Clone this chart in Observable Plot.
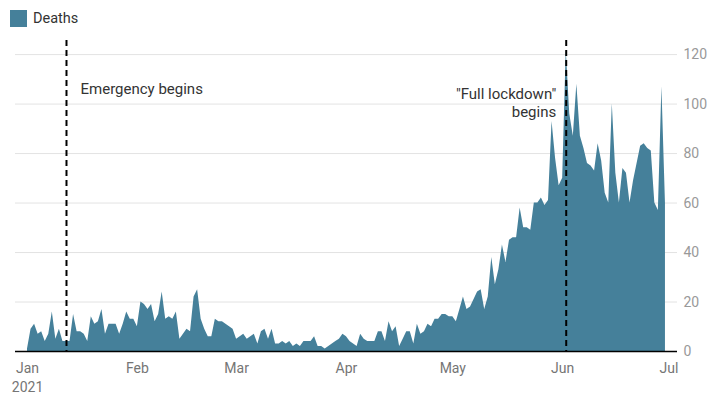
<!DOCTYPE html>
<html>
<head>
<meta charset="utf-8">
<script src="https://cdn.jsdelivr.net/npm/d3@7"></script>
<script src="https://cdn.jsdelivr.net/npm/@observablehq/plot@0.6"></script>
<style>
  html, body { margin: 0; padding: 0; background: #fff; }
  body { width: 725px; height: 399px; position: relative; overflow: hidden; font-family: Roboto, sans-serif; }
  #legend { position: absolute; left: 10px; top: 10px; display: flex; align-items: center; font-size: 14.5px; color: #333; z-index: 2; }
  #legend .sw { width: 17px; height: 17px; margin-right: 6px; }
  #chart { position: absolute; left: 0; top: 0; }
</style>
</head>
<body>
<div id="legend"></div>
<div id="chart"></div>
<script>
// Daily deaths, one value per day starting 1 Jan 2021
const startDate = "2021-01-01";
const deaths = [
  // Jan
  1, 9, 11, 7, 8, 4, 7, 16, 5, 9, 4, 4, 4, 15, 8, 8, 7, 4, 14, 11, 12, 17, 7, 11, 11, 11, 7, 11, 16, 13, 13,
  // Feb
  10, 20, 19, 17, 19, 12, 15, 24, 13, 14, 13, 16, 5, 7, 9, 8, 22, 25, 13, 9, 6, 6, 13, 12, 12, 11, 10, 9,
  // Mar
  5, 6, 7, 5, 6, 7, 3, 8, 9, 5, 9, 3, 3, 4, 3, 4, 2, 3, 2, 4, 4, 4, 6, 2, 2, 1, 2, 3, 4, 5, 7,
  // Apr
  6, 4, 3, 2, 7, 5, 4, 4, 4, 8, 8, 4, 12, 8, 10, 2, 5, 8, 8, 3, 11, 7, 8, 11, 10, 13, 13, 15, 15, 14,
  // May
  14, 12, 17, 22, 17, 18, 21, 24, 25, 17, 22, 38, 27, 33, 43, 36, 45, 46, 46, 58, 50, 50, 49, 60, 60, 62, 59, 61, 93, 78, 67,
  // Jun
  70, 122, 96, 87, 108, 87, 82, 76, 75, 73, 84, 77, 64, 60, 100, 72, 60, 74, 72, 60, 69, 76, 83, 84, 82, 81, 60, 57, 107, 60
];
const seriesName = "Deaths";
const tickDates = ["2021-01-01", "2021-02-01", "2021-03-01", "2021-04-01", "2021-05-01", "2021-06-01", "2021-07-01"];
const tickLabels = ["Jan", "Feb", "Mar", "Apr", "May", "Jun", "Jul"];
const yearLabel = "2021";
const yTicks = [0, 20, 40, 60, 80, 100, 120];
const eventDates = ["2021-01-12", "2021-06-02"];
const eventLabels = ["Emergency begins", "\"Full lockdown\"\nbegins"];

const fillColor = "#45809a";

const start = new Date(startDate + "T00:00:00Z");
const table = deaths.map((v, i) => ({ date: d3.utcDay.offset(start, i), deaths: v }));
const ticks = tickDates.map(d => new Date(d + "T00:00:00Z"));
const events = eventDates.map((d, i) => ({ date: new Date(d + "T00:00:00Z"), label: eventLabels[i] }));
const labelOf = new Map(ticks.map((t, i) => [+t, tickLabels[i]]));

// legend
const legend = document.getElementById("legend");
legend.innerHTML = `<div class="sw" style="background:${fillColor}"></div><span>${seriesName}</span>`;

const chart = Plot.plot({
  width: 725,
  height: 399,
  marginTop: 40,
  marginBottom: 48,
  marginLeft: 15,
  marginRight: 48,
  style: { fontFamily: "Roboto, sans-serif", background: "transparent", overflow: "visible" },
  x: { type: "utc", domain: [new Date("2020-12-28T14:42:00Z"), new Date("2021-07-03T09:33:00Z")] },
  y: { domain: [0, 125.7] },
  marks: [
    Plot.gridY(yTicks, { stroke: "#e3e3e3", strokeOpacity: 1, strokeWidth: 1 }),
    Plot.areaY(table, { x: "date", y: "deaths", fill: fillColor, curve: "linear" }),
    Plot.ruleY([0], { stroke: "#000", strokeWidth: 1.5 }),
    Plot.ruleX(events, { x: "date", stroke: "#000", strokeWidth: 2, strokeDasharray: "6,4" }),
    Plot.text([events[0]], { x: "date", y: () => 104, text: "label", textAnchor: "start", lineAnchor: "bottom", dx: 14, fontSize: 15, fill: "#333" }),
    Plot.text([events[1]], { x: "date", y: () => 94.8, text: "label", textAnchor: "end", lineAnchor: "bottom", lineHeight: 1.17, dx: -10, fontSize: 15, fill: "#333" }),
    Plot.axisX({ ticks: ticks, tickFormat: d => labelOf.get(+d), tickSize: 0, tickPadding: 12, fontSize: 14, fill: "#757575", label: null }),
    Plot.text([{ date: ticks[0], label: yearLabel }], { x: "date", y: () => 0, text: "label", lineAnchor: "bottom", dy: 40.5, fontSize: 14, fill: "#757575" }),
    Plot.axisY({ anchor: "right", ticks: yTicks, tickSize: 0, tickPadding: 6, fontSize: 14, fill: "#999", label: null })
  ]
});
document.getElementById("chart").appendChild(chart);
</script>
</body>
</html>
